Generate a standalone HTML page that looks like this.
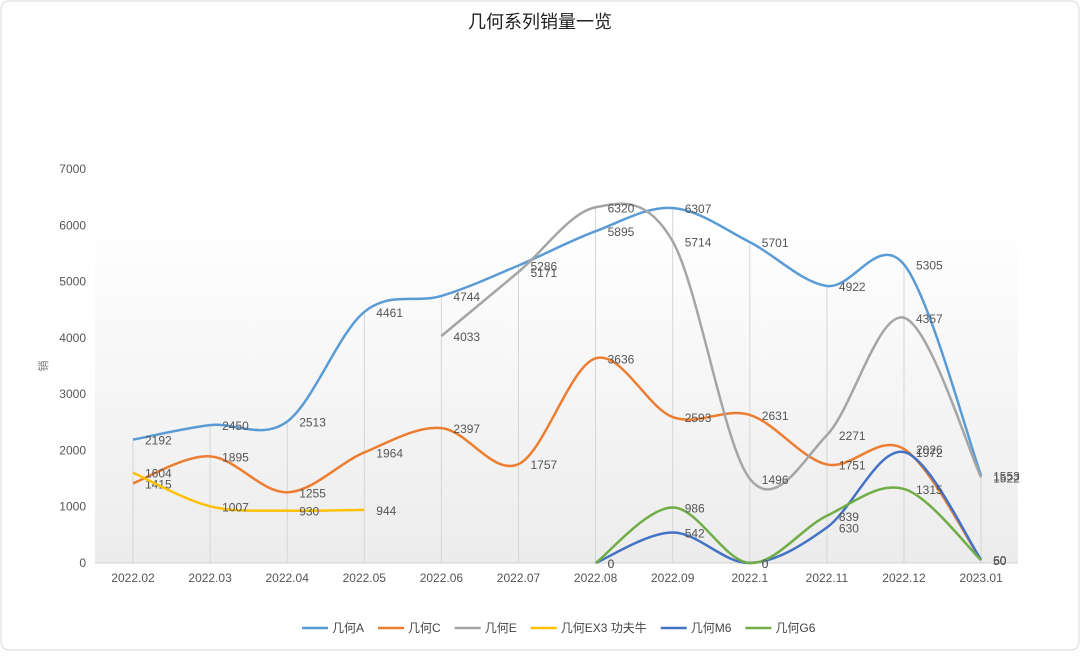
<!DOCTYPE html>
<html><head><meta charset="utf-8"><style>
body{margin:0;background:#fff;font-family:"Liberation Sans","Noto Sans CJK SC",sans-serif;}
#wrap{position:relative;width:1080px;height:651px;}
svg text{font-family:"Liberation Sans","Noto Sans CJK SC",sans-serif;}
</style></head><body>
<div id="wrap">
<svg id="chart" width="1080" height="651">
<defs><linearGradient id="bg" x1="0" y1="0" x2="0" y2="1"><stop offset="0" stop-color="#ffffff"/><stop offset="1" stop-color="#ececec"/></linearGradient></defs>
<rect x="1" y="1" width="1078" height="649" rx="8" fill="#fff" stroke="#d9d9d9"/>
<text x="540" y="28" text-anchor="middle" font-size="18" fill="#222">几何系列销量一览</text>
<rect x="95" y="217" width="923" height="346" fill="url(#bg)"/>
<text transform="translate(47,366) rotate(-90)" text-anchor="middle" font-size="11" fill="#777">销</text>
<g id="g"></g>
</svg>
</div>
<script>
const categories=["2022.02","2022.03","2022.04","2022.05","2022.06","2022.07","2022.08","2022.09","2022.1","2022.11","2022.12","2023.01"];
const seriesNames=["几何A","几何C","几何E","几何EX3 功夫牛","几何M6","几何G6"];
const seriesColors=["#5b9bd5","#ed7d31","#a5a5a5","#ffc000","#4472c4","#70ad47"];
const valuesA=[2192,2450,2513,4461,4744,5286,5895,6307,5701,4922,5305,1553];
const valuesC=[1415,1895,1255,1964,2397,1757,3636,2593,2631,1751,2026,50];
const valuesE=[null,null,null,null,4033,5171,6320,5714,1496,2271,4357,1522];
const valuesEX3=[1604,1007,930,944,null,null,null,null,null,null,null,null];
const valuesM6=[null,null,null,null,null,null,0,542,0,630,1972,60];
const valuesG6=[null,null,null,null,null,null,0,986,0,839,1315,50];
const yTicks=[0,1000,2000,3000,4000,5000,6000,7000];
const allSeries=[valuesA,valuesC,valuesE,valuesEX3,valuesM6,valuesG6];
const NS="http://www.w3.org/2000/svg";
const g=document.getElementById('g');
const x=i=>133+i*77.1;
const y=v=>563-v*(394/7000);
function mk(t,a,txt){const e=document.createElementNS(NS,t);for(const k in a)e.setAttribute(k,a[k]);if(txt!=null)e.textContent=txt;g.appendChild(e);return e;}
yTicks.forEach(t=>{const e=mk('text',{x:86,y:y(t)+4,'text-anchor':'end','font-size':12,fill:'#555'},t);

});
const base=mk('line',{x1:95,x2:1018,y1:563,y2:563,stroke:'#d0d0d0'});


categories.forEach((c,i)=>{let m=0;allSeries.forEach(s=>{if(s[i]!=null&&s[i]>m)m=s[i];});
const l=mk('line',{x1:x(i),x2:x(i),y1:y(m),y2:563,stroke:'#d5d5d5'});


const t=mk('text',{x:x(i),y:582,'text-anchor':'middle','font-size':12,fill:'#555'},c);

});
function smooth(pts){let d=`M${pts[0][0]},${pts[0][1]}`;for(let i=0;i<pts.length-1;i++){const p0=pts[i-1]||pts[i],p1=pts[i],p2=pts[i+1],p3=pts[i+2]||p2;const k=1/6;
d+=` C${p1[0]+(p2[0]-p0[0])*k},${p1[1]+(p2[1]-p0[1])*k} ${p2[0]-(p3[0]-p1[0])*k},${p2[1]-(p3[1]-p1[1])*k} ${p2[0]},${p2[1]}`;}return d;}
allSeries.forEach((s,si)=>{const pts=[];s.forEach((v,i)=>{if(v!=null)pts.push([x(i),y(v),v]);});
const p=mk('path',{d:smooth(pts),fill:'none',stroke:seriesColors[si],'stroke-width':2.5});


pts.forEach(q=>{const t=mk('text',{x:q[0]+12,y:q[1]+5,'font-size':12,fill:'#555'},q[2]);

});});
let lx=302;
seriesNames.forEach((n,i)=>{const l=mk('line',{x1:lx,x2:lx+26,y1:628,y2:628,stroke:seriesColors[i],'stroke-width':2.5});


const t=mk('text',{x:lx+30,y:632,'font-size':12,fill:'#444'},n);


lx+=30+t.getComputedTextLength()+14;});
</script>
</body></html>
